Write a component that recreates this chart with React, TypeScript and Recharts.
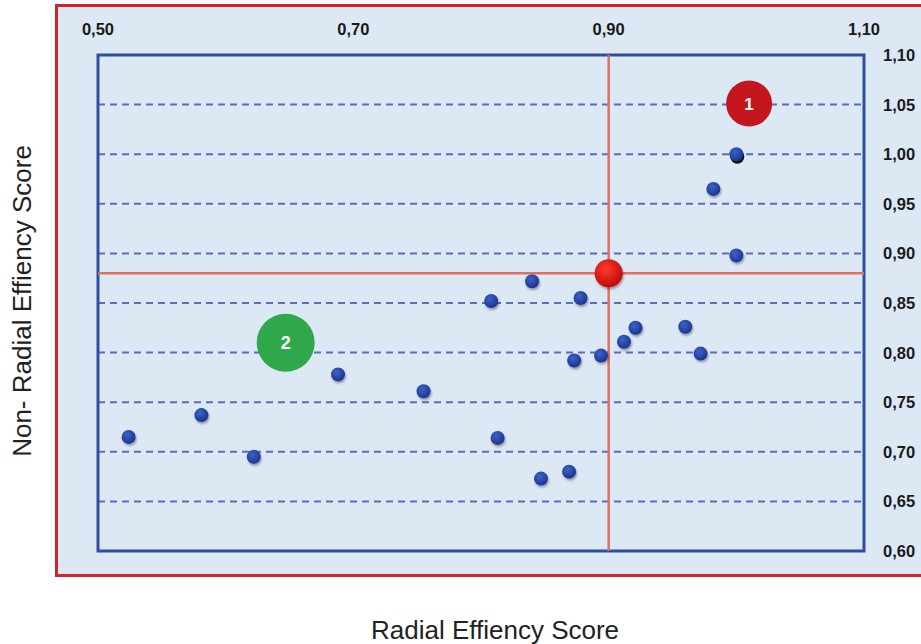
import React from "react";
import {
  ScatterChart,
  Scatter,
  XAxis,
  YAxis,
  CartesianGrid,
  ReferenceLine,
  ReferenceArea,
} from "recharts";

// units (radial score, non-radial score)
const radialScores = [
  0.524, 0.581, 0.622, 0.688, 0.755, 0.808, 0.84, 0.878, 0.873, 0.813,
  0.847, 0.869, 0.894, 0.912, 0.921, 0.96, 0.972, 0.982, 1.0,
];
const nonRadialScores = [
  0.715, 0.737, 0.695, 0.778, 0.761, 0.852, 0.872, 0.855, 0.792, 0.714,
  0.673, 0.68, 0.797, 0.811, 0.825, 0.826, 0.799, 0.965, 0.898,
];

// efficient unit sitting on the frontier
const frontierX = [1.0];
const frontierY = [1.0];

// benchmark cross (mean)
const benchmarkX = 0.9;
const benchmarkY = 0.88;

// numbered groups
const groupLabels = ["1", "2"];
const groupX = [1.01, 0.647];
const groupY = [1.051, 0.81];

const xTicks = [0.5, 0.7, 0.9, 1.1];
const yTicks = [0.6, 0.65, 0.7, 0.75, 0.8, 0.85, 0.9, 0.95, 1.0, 1.05, 1.1];

const units = radialScores.map((x, i) => ({ x, y: nonRadialScores[i] }));
const frontier = frontierX.map((x, i) => ({ x, y: frontierY[i] }));
const benchmark = [{ x: benchmarkX, y: benchmarkY }];
const groups = groupLabels.map((label, i) => ({ x: groupX[i], y: groupY[i], label }));

const groupStyle: Record<string, { r: number; fill: string; font: number }> = {
  "1": { r: 23, fill: "#c5161d", font: 17 },
  "2": { r: 29, fill: "#2ea84b", font: 18 },
};

const fmt = (v: number) => v.toFixed(2).replace(".", ",");
const tickFont = "'Liberation Sans', Arial, sans-serif";

const XTick = (props: any) => {
  const { x, y, payload } = props;
  return (
    <text x={x} y={y - 20} textAnchor="middle" fontFamily={tickFont} fontWeight={700} fontSize={16.5} fill="#1a1a1a">
      {fmt(payload.value)}
    </text>
  );
};

const YTick = (props: any) => {
  const { x, y, payload } = props;
  return (
    <text x={x + 19} y={y + 6} textAnchor="start" fontFamily={tickFont} fontWeight={700} fontSize={16.5} fill="#1a1a1a">
      {fmt(payload.value)}
    </text>
  );
};

const BlueDot = (p: any) => (
  <circle cx={p.cx} cy={p.cy} r={7} fill="url(#blueBall)" filter="url(#dotShadow)" />
);

const FrontierDot = (p: any) => (
  <g>
    <circle cx={p.cx + 1} cy={p.cy + 2.5} r={7} fill="#111" />
    <circle cx={p.cx} cy={p.cy} r={7} fill="url(#blueBall)" />
  </g>
);

const RedDot = (p: any) => (
  <circle cx={p.cx} cy={p.cy} r={14} fill="url(#redBall)" filter="url(#dotShadow)" />
);

const GroupBubble = (p: any) => {
  const s = groupStyle[p.payload.label];
  return (
    <g>
      <circle cx={p.cx} cy={p.cy} r={s.r} fill={s.fill} />
      <text
        x={p.cx}
        y={p.cy + s.font * 0.36}
        textAnchor="middle"
        fill="#fff"
        fontWeight={700}
        fontSize={s.font}
        fontFamily={tickFont}
      >
        {p.payload.label}
      </text>
    </g>
  );
};

export default function App() {
  return (
    <div
      style={{
        position: "absolute",
        left: 0,
        top: 0,
        width: 921,
        height: 644,
        overflow: "hidden",
        background: "#fff",
      }}
    >
      <div
        style={{
          position: "absolute",
          left: 55,
          top: 4,
          width: 900,
          height: 573,
          boxSizing: "border-box",
          border: "3px solid #d3222a",
          background: "#dde8f5",
        }}
      />
      <div style={{ position: "absolute", left: 0, top: 0 }}>
        <ScatterChart width={921} height={644} margin={{ top: 25, right: 7, bottom: 93, left: 98 }}>
          <defs>
            <radialGradient id="blueBall" cx="40%" cy="35%" r="65%">
              <stop offset="0%" stopColor="#3d62c8" />
              <stop offset="100%" stopColor="#1b3490" />
            </radialGradient>
            <radialGradient id="redBall" cx="40%" cy="35%" r="65%">
              <stop offset="0%" stopColor="#ff3b2b" />
              <stop offset="100%" stopColor="#c20a0a" />
            </radialGradient>
            <filter id="dotShadow" x="-50%" y="-50%" width="200%" height="200%">
              <feDropShadow dx="1" dy="2" stdDeviation="1.2" floodColor="#000" floodOpacity="0.35" />
            </filter>
          </defs>
          <CartesianGrid
            vertical={false}
            stroke="#5a6cc2"
            strokeWidth={2}
            strokeDasharray="7 5"
          />
          <XAxis
            type="number"
            dataKey="x"
            orientation="top"
            domain={[0.5, 1.1]}
            ticks={xTicks}
            height={30}
            axisLine={false}
            tickLine={false}
            tickSize={0}
            tickMargin={0}
            tick={<XTick />}
            interval={0}
          />
          <YAxis
            type="number"
            dataKey="y"
            orientation="right"
            domain={[0.6, 1.1]}
            ticks={yTicks}
            width={50}
            axisLine={false}
            tickLine={false}
            tickSize={0}
            tickMargin={0}
            tick={<YTick />}
            interval={0}
          />
          <ReferenceLine x={benchmarkX} stroke="#e0705e" strokeWidth={2.5} />
          <ReferenceLine y={benchmarkY} stroke="#e0705e" strokeWidth={2.5} />
          <ReferenceArea x1={0.5} x2={1.1} y1={0.6} y2={1.1} fill="none" fillOpacity={0} stroke="#2e4ea3" strokeWidth={3} />
          <Scatter data={units} shape={BlueDot} isAnimationActive={false} />
          <Scatter data={frontier} shape={FrontierDot} isAnimationActive={false} />
          <Scatter data={benchmark} shape={RedDot} isAnimationActive={false} />
          <Scatter data={groups} shape={GroupBubble} isAnimationActive={false} />
        </ScatterChart>
      </div>
      <svg
        width={921}
        height={644}
        style={{ position: "absolute", left: 0, top: 0, pointerEvents: "none" }}
      >
        <text
          x={31}
          y={301}
          transform="rotate(-90 31 301)"
          textAnchor="middle"
          fontFamily="'Liberation Sans', Arial, sans-serif"
          fontSize={26}
          fill="#222"
        >
          Non- Radial Effiency Score
        </text>
        <text
          x={495}
          y={639}
          textAnchor="middle"
          fontFamily="'Liberation Sans', Arial, sans-serif"
          fontSize={26}
          fill="#222"
        >
          Radial Effiency Score
        </text>
      </svg>
    </div>
  );
}
